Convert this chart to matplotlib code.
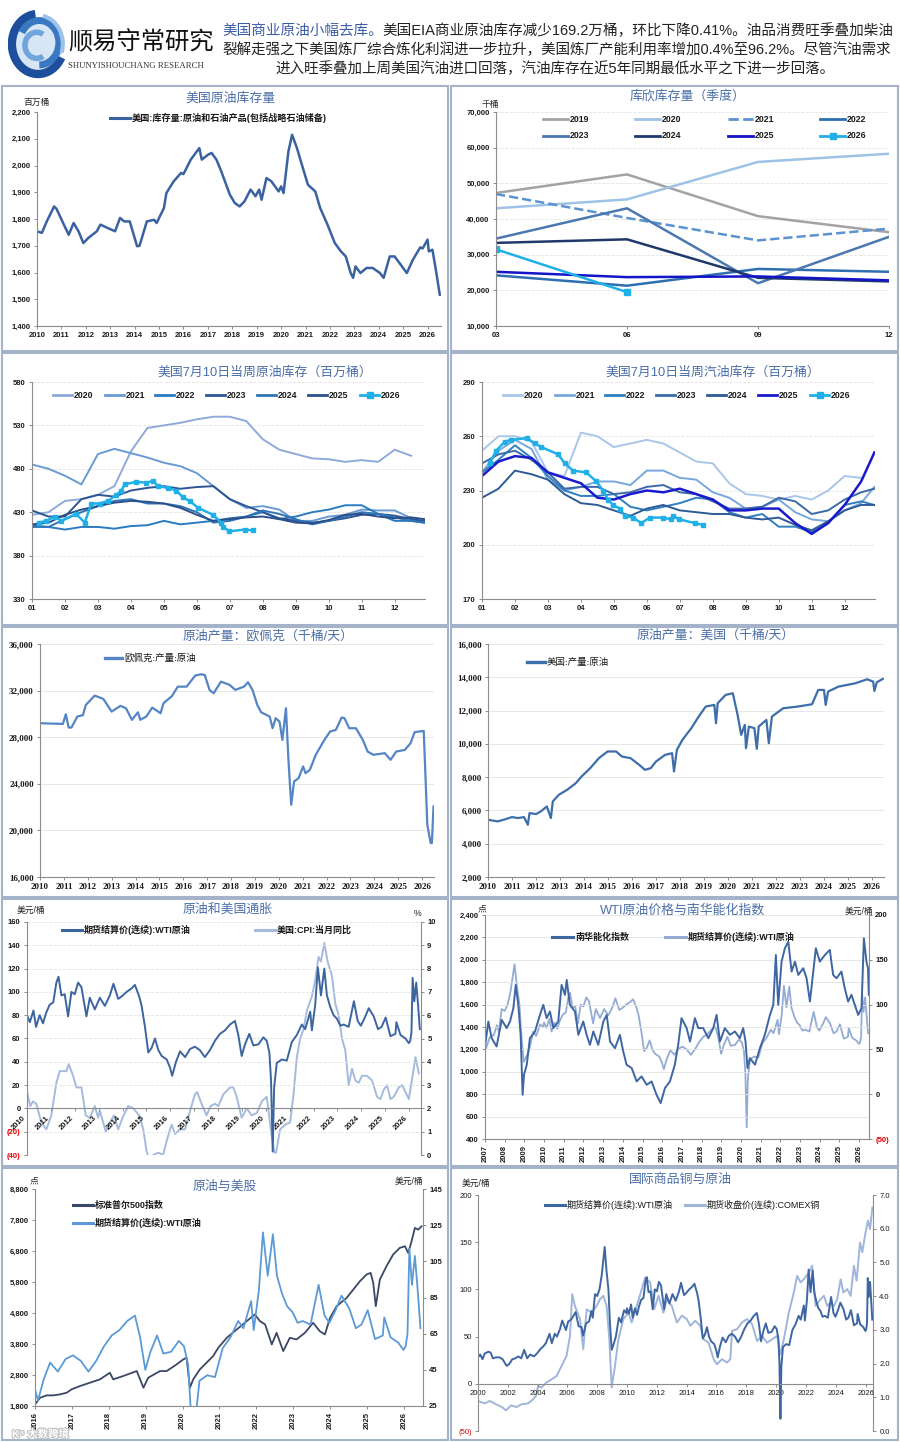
import numpy as np
import matplotlib
matplotlib.use('Agg')
import matplotlib.pyplot as plt
import matplotlib.patheffects as pe
from matplotlib.lines import Line2D
from matplotlib.patches import Rectangle, Arc, Circle

plt.rcParams['font.family'] = ['Liberation Sans', 'Noto Sans CJK SC']
plt.rcParams['font.weight'] = 'bold'
plt.rcParams['axes.unicode_minus'] = False

nan = np.nan

# ---------- 数据 ----------
# 美国原油和石油产品库存 (百万桶)
STOCKS = [(2010.0, 1754), (2010.2, 1748), (2010.4, 1791), (2010.7, 1847), (2010.8, 1838), (2011.1, 1779),
          (2011.3, 1741), (2011.5, 1785), (2011.7, 1754), (2011.9, 1710), (2012.1, 1729), (2012.45, 1754),
          (2012.6, 1779), (2012.9, 1766), (2013.2, 1754), (2013.4, 1804), (2013.57, 1791), (2013.8, 1791),
          (2014.1, 1698), (2014.2, 1700), (2014.5, 1791), (2014.8, 1797), (2014.9, 1785), (2015.2, 1841),
          (2015.3, 1897), (2015.6, 1941), (2015.9, 1972), (2016.0, 1968), (2016.3, 2022), (2016.55, 2053),
          (2016.65, 2065), (2016.75, 2022), (2017.0, 2040), (2017.15, 2047), (2017.35, 2022), (2017.55, 1978),
          (2017.9, 1891), (2018.1, 1860), (2018.3, 1847), (2018.5, 1866), (2018.75, 1910), (2018.95, 1885),
          (2019.1, 1910), (2019.2, 1872), (2019.4, 1953), (2019.6, 1941), (2019.9, 1903), (2020.0, 1922),
          (2020.1, 1897), (2020.3, 2053), (2020.45, 2115), (2020.65, 2065), (2020.85, 2003), (2021.1, 1928),
          (2021.4, 1903), (2021.6, 1841), (2021.9, 1779), (2022.2, 1710), (2022.45, 1679), (2022.65, 1660),
          (2022.85, 1598), (2022.95, 1580), (2023.05, 1623), (2023.25, 1598), (2023.5, 1617), (2023.75, 1617),
          (2024.05, 1598), (2024.2, 1580), (2024.45, 1660), (2024.65, 1660), (2024.95, 1623), (2025.15, 1598),
          (2025.4, 1648), (2025.7, 1694), (2025.8, 1690), (2026.0, 1723), (2026.05, 1679), (2026.2, 1685),
          (2026.35, 1604), (2026.5, 1517)]

# 库欣库存 (千桶), 季度 03/06/09/12
Q_LABELS = ['03', '06', '09', '12']
CUSH_2019 = [47300, 52500, 40800, 36300]
CUSH_2020 = [43000, 45500, 56000, 58300]
CUSH_2021 = [47000, 40300, 34000, 37300]
CUSH_2022 = [24200, 21300, 26000, 25200]
CUSH_2023 = [34500, 43000, 22000, 35000]
CUSH_2024 = [33300, 34300, 23500, 22500]
CUSH_2025 = [25200, 23700, 23900, 22800]
CUSH_2026 = [31500, 19500]

# 季节性图: 月份位置
SEAS_X = [1.0, 1.5, 2.0, 2.5, 3.0, 3.5, 4.0, 4.5, 5.0, 5.5, 6.0, 6.5, 7.0, 7.5, 8.0, 8.5,
          9.0, 9.5, 10.0, 10.5, 11.0, 11.5, 12.0, 12.5, 12.9]
MONTH_LABELS = ['01', '02', '03', '04', '05', '06', '07', '08', '09', '10', '11', '12']

CRUDE_2020 = [427, 430, 443, 445, 450, 460, 500, 527, 530, 533, 537, 540, 540, 535, 514, 502, 497, 492, 491, 488, 490, 488, 502, 495, nan]
CRUDE_2021 = [485, 480, 472, 462, 497, 503, 498, 493, 487, 483, 475, 460, 445, 435, 437, 433, 420, 420, 425, 427, 433, 432, 432, 423, 418]
CRUDE_2022 = [415, 413, 410, 413, 413, 411, 414, 415, 420, 416, 418, 420, 423, 425, 430, 422, 425, 430, 433, 438, 438, 428, 420, 420, 418]
CRUDE_2023 = [432, 425, 425, 445, 450, 448, 455, 458, 460, 457, 459, 460, 445, 437, 430, 423, 420, 418, 420, 423, 427, 428, 426, 422, 420]
CRUDE_2024 = [413, 413, 422, 430, 437, 443, 445, 440, 440, 437, 430, 418, 420, 425, 432, 428, 422, 416, 420, 425, 430, 428, 424, 420, 418]
CRUDE_2025 = [416, 418, 427, 433, 437, 441, 443, 442, 440, 435, 427, 420, 422, 424, 425, 422, 418, 417, 421, 427, 428, 425, 423, 424, 422]
CRUDE_2026 = [(1.20, 418), (1.43, 420), (1.69, 425), (1.89, 420), (2.34, 428), (2.60, 418), (2.80, 440),
              (3.05, 440), (3.31, 443), (3.56, 450), (3.71, 455), (3.81, 462), (4.16, 465), (4.47, 464),
              (4.67, 466), (4.82, 460), (5.12, 458), (5.38, 455), (5.58, 447), (5.78, 443), (6.04, 435),
              (6.49, 427), (6.74, 418), (6.79, 413), (6.99, 408), (7.45, 410), (7.70, 409)]

GAS_2020 = [252, 260, 260, 257, 240, 238, 262, 260, 254, 256, 258, 256, 251, 246, 245, 234, 228, 227, 225, 227, 225, 230, 238, 237, nan]
GAS_2021 = [240, 252, 258, 253, 236, 230, 232, 235, 235, 233, 241, 241, 237, 236, 229, 226, 220, 221, 225, 218, 214, 213, 219, 223, 232]
GAS_2022 = [240, 247, 255, 248, 238, 230, 227, 227, 228, 221, 219, 221, 223, 226, 225, 218, 215, 217, 210, 210, 207, 212, 222, 224, 222]
GAS_2023 = [245, 250, 252, 247, 240, 231, 232, 232, 228, 229, 232, 233, 229, 228, 224, 220, 220, 221, 226, 224, 217, 219, 225, 229, 231]
GAS_2024 = [226, 231, 241, 239, 236, 228, 223, 222, 219, 216, 220, 222, 219, 218, 217, 217, 215, 214, 215, 211, 208, 213, 219, 222, 222]
GAS_2025 = [238, 246, 249, 248, 240, 237, 234, 226, 225, 228, 230, 229, 231, 228, 225, 219, 219, 220, 220, 212, 206, 212, 222, 235, 251]
GAS_2026 = [(1.23, 245), (1.43, 252), (1.69, 257), (1.89, 258), (2.37, 259), (2.60, 256), (2.80, 254),
            (3.31, 250), (3.51, 245), (3.76, 241), (4.16, 240), (4.47, 235), (4.67, 230), (4.82, 225),
            (4.97, 222), (5.18, 220), (5.33, 216), (5.58, 215), (5.83, 212), (6.09, 215), (6.49, 215),
            (6.74, 214), (6.79, 216), (6.99, 214), (7.45, 212), (7.70, 211)]

# 欧佩克原油产量 (千桶/天)
OPEC = [(2010.0, 29200), (2010.96, 29140), (2011.08, 29970), (2011.2, 28830), (2011.32, 28830), (2011.56, 29770),
        (2011.8, 29900), (2011.92, 30770), (2012.29, 31570), (2012.65, 31290), (2013.0, 30200), (2013.37, 30690),
        (2013.6, 30490), (2013.85, 29490), (2014.1, 30140), (2014.2, 29490), (2014.45, 29770), (2014.7, 30540),
        (2015.05, 30060), (2015.17, 30910), (2015.53, 31540), (2015.77, 32340), (2016.14, 32340), (2016.5, 33290),
        (2016.74, 33400), (2016.9, 33340), (2017.1, 32060), (2017.27, 31770), (2017.58, 32770), (2017.94, 32490),
        (2018.18, 32060), (2018.54, 32340), (2018.71, 32710), (2018.9, 32060), (2019.1, 30770), (2019.26, 30140),
        (2019.62, 29770), (2019.74, 28770), (2019.87, 29630), (2020.03, 29340), (2020.15, 27770), (2020.3, 30490),
        (2020.4, 26200), (2020.52, 22200), (2020.64, 24200), (2020.83, 24490), (2021.02, 25490), (2021.12, 24910),
        (2021.3, 25200), (2021.55, 26490), (2021.91, 27770), (2022.15, 28490), (2022.39, 28630), (2022.63, 29690),
        (2022.75, 29630), (2022.95, 28770), (2023.23, 28770), (2023.52, 27770), (2023.72, 26770), (2023.96, 26490),
        (2024.44, 26630), (2024.68, 26060), (2024.92, 26770), (2025.28, 26910), (2025.52, 27490), (2025.69, 28430),
        (2025.88, 28490), (2026.07, 28540), (2026.22, 20490), (2026.36, 18910), (2026.41, 18910), (2026.48, 22060)]

# 美国原油产量 (千桶/天)
US_PROD = [(2010.0, 5440), (2010.4, 5340), (2010.65, 5440), (2011.0, 5600), (2011.25, 5540), (2011.5, 5600),
           (2011.66, 5140), (2011.73, 5840), (2012.0, 5780), (2012.2, 5940), (2012.45, 6240), (2012.62, 5540),
           (2012.7, 6540), (2012.95, 6940), (2013.3, 7240), (2013.66, 7640), (2013.9, 8040), (2014.26, 8540),
           (2014.62, 9140), (2014.98, 9540), (2015.34, 9540), (2015.58, 9240), (2015.94, 9140), (2016.3, 8740),
           (2016.54, 8440), (2016.78, 8540), (2017.0, 8940), (2017.38, 9340), (2017.67, 9440), (2017.75, 8340),
           (2017.87, 9640), (2018.1, 10240), (2018.47, 10940), (2018.78, 11640), (2019.07, 12240), (2019.43, 12340),
           (2019.5, 11240), (2019.57, 12440), (2019.9, 12940), (2020.2, 13040), (2020.4, 11740), (2020.55, 10540),
           (2020.7, 11140), (2020.75, 9740), (2020.87, 11040), (2021.1, 10940), (2021.2, 9700), (2021.28, 11040),
           (2021.6, 11440), (2021.7, 10040), (2021.83, 11640), (2022.3, 12140), (2022.9, 12240), (2023.5, 12380),
           (2023.76, 13240), (2024.0, 13240), (2024.07, 12340), (2024.17, 13140), (2024.6, 13440), (2024.96, 13540),
           (2025.3, 13640), (2025.8, 13880), (2026.05, 13740), (2026.1, 13180), (2026.2, 13700), (2026.45, 13900)]

# WTI 期货结算价 (美元/桶)
WTI = [(2000.0, 28), (2000.15, 31), (2000.3, 26), (2000.45, 32), (2000.7, 34), (2000.85, 33), (2001.0, 27),
       (2001.2, 28), (2001.45, 28), (2001.65, 26), (2001.8, 22), (2001.92, 19), (2002.1, 21), (2002.3, 26),
       (2002.5, 27), (2002.7, 29), (2002.9, 27), (2003.1, 36), (2003.3, 27), (2003.5, 31), (2003.75, 29),
       (2003.95, 32), (2004.2, 37), (2004.4, 40), (2004.55, 43), (2004.8, 53), (2004.95, 43), (2005.15, 53),
       (2005.3, 50), (2005.5, 58), (2005.65, 67), (2005.9, 57), (2006.05, 66), (2006.25, 68), (2006.55, 76),
       (2006.75, 61), (2006.95, 60), (2007.05, 51), (2007.25, 64), (2007.45, 66), (2007.6, 77), (2007.7, 70),
       (2007.85, 95), (2008.0, 93), (2008.15, 100), (2008.3, 115), (2008.5, 145), (2008.62, 120), (2008.75, 100),
       (2008.85, 65), (2008.97, 36), (2009.1, 42), (2009.25, 50), (2009.45, 70), (2009.6, 65), (2009.8, 78),
       (2009.95, 75), (2010.0, 80), (2010.12, 74), (2010.27, 84), (2010.38, 70), (2010.53, 80), (2010.67, 73),
       (2010.8, 82), (2010.95, 89), (2011.1, 91), (2011.23, 108), (2011.32, 113), (2011.44, 97), (2011.58, 98),
       (2011.72, 79), (2011.86, 100), (2012.0, 98), (2012.14, 108), (2012.28, 104), (2012.49, 79), (2012.63, 95),
       (2012.84, 85), (2013.05, 95), (2013.26, 88), (2013.47, 97), (2013.62, 107), (2013.82, 94), (2013.96, 96),
       (2014.17, 100), (2014.38, 103), (2014.52, 106), (2014.7, 96), (2014.8, 88), (2014.94, 70), (2015.08, 48),
       (2015.22, 52), (2015.36, 60), (2015.5, 50), (2015.64, 45), (2015.85, 42), (2015.99, 35), (2016.08, 28),
       (2016.24, 40), (2016.41, 49), (2016.62, 44), (2016.83, 51), (2017.03, 53), (2017.24, 50), (2017.45, 44),
       (2017.66, 50), (2017.87, 58), (2018.08, 64), (2018.29, 67), (2018.5, 72), (2018.71, 75), (2018.85, 63),
       (2018.99, 45), (2019.13, 55), (2019.31, 64), (2019.48, 54), (2019.69, 55), (2019.9, 61), (2020.04, 58),
       (2020.15, 48), (2020.22, 24), (2020.29, -37), (2020.35, 18), (2020.46, 39), (2020.67, 42), (2020.88, 41),
       (2021.09, 57), (2021.3, 63), (2021.51, 72), (2021.65, 68), (2021.86, 83), (2021.93, 67), (2022.07, 89),
       (2022.18, 121), (2022.31, 97), (2022.45, 120), (2022.56, 97), (2022.7, 87), (2022.84, 80), (2022.98, 77),
       (2023.12, 71), (2023.26, 72), (2023.47, 70), (2023.69, 92), (2023.85, 75), (2023.98, 71), (2024.15, 78),
       (2024.31, 86), (2024.52, 79), (2024.7, 68), (2024.85, 70), (2025.02, 78), (2025.22, 62), (2025.43, 64),
       (2025.47, 74), (2025.64, 63), (2025.85, 60), (2025.99, 56), (2026.05, 58), (2026.1, 65), (2026.15, 112),
       (2026.22, 92), (2026.3, 108), (2026.38, 88), (2026.45, 68)]

# 美国CPI当月同比 (%)
CPI = [(2010.0, 2.7), (2010.14, 2.1), (2010.25, 2.3), (2010.39, 2.2), (2010.6, 1.4), (2010.81, 1.1), (2011.02, 1.7),
       (2011.23, 3.1), (2011.37, 3.6), (2011.65, 3.6), (2011.75, 3.9), (2011.93, 3.4), (2012.07, 2.9), (2012.28, 2.9),
       (2012.46, 1.7), (2012.63, 1.6), (2012.84, 2.1), (2012.98, 1.6), (2013.05, 1.9), (2013.3, 1.0), (2013.47, 1.4),
       (2013.64, 1.7), (2013.82, 1.1), (2014.0, 1.6), (2014.24, 2.1), (2014.45, 2.0), (2014.7, 1.7), (2014.87, 1.1),
       (2015.0, 0.2), (2015.08, -0.1), (2015.29, 0.0), (2015.5, 0.1), (2015.7, 0.0), (2015.85, 0.6), (2015.99, 1.1),
       (2016.06, 1.3), (2016.2, 0.9), (2016.4, 1.1), (2016.62, 1.1), (2016.83, 1.9), (2017.03, 2.6), (2017.13, 2.7),
       (2017.31, 2.2), (2017.52, 1.7), (2017.69, 2.1), (2017.87, 2.2), (2018.01, 2.1), (2018.22, 2.6), (2018.5, 2.9),
       (2018.64, 2.9), (2018.78, 2.5), (2018.99, 1.6), (2019.2, 2.0), (2019.41, 1.7), (2019.62, 1.8), (2019.83, 2.3),
       (2020.04, 2.5), (2020.21, 1.1), (2020.36, 0.1), (2020.43, 0.1), (2020.6, 1.1), (2020.81, 1.3), (2021.02, 1.4),
       (2021.16, 2.6), (2021.3, 4.2), (2021.44, 5.0), (2021.58, 5.4), (2021.72, 6.2), (2021.93, 6.8), (2022.07, 7.5),
       (2022.21, 8.5), (2022.31, 8.3), (2022.45, 9.1), (2022.59, 8.3), (2022.77, 7.7), (2022.91, 6.5), (2023.05, 6.0),
       (2023.19, 5.0), (2023.33, 4.5), (2023.47, 3.0), (2023.61, 3.7), (2023.75, 3.2), (2023.89, 3.1), (2024.03, 3.4),
       (2024.24, 3.4), (2024.45, 3.2), (2024.66, 2.5), (2024.8, 2.4), (2024.94, 2.8), (2025.08, 3.0), (2025.22, 2.4),
       (2025.36, 2.5), (2025.57, 2.9), (2025.71, 3.0), (2025.85, 2.7), (2025.99, 2.4), (2026.13, 3.3), (2026.27, 4.2),
       (2026.41, 3.5)]

# 南华能化指数 (点)
NANHUA = [(2007.0, 1226), (2007.17, 1449), (2007.34, 1300), (2007.59, 1226), (2007.85, 1464), (2008.1, 1390),
          (2008.27, 1449), (2008.44, 1568), (2008.56, 1776), (2008.69, 1598), (2008.81, 1330), (2008.91, 795),
          (2008.98, 974), (2009.12, 1063), (2009.28, 1300), (2009.54, 1360), (2009.79, 1508), (2009.96, 1598),
          (2010.13, 1479), (2010.3, 1538), (2010.47, 1390), (2010.72, 1449), (2010.89, 1776), (2011.06, 1687),
          (2011.15, 1820), (2011.31, 1598), (2011.57, 1538), (2011.74, 1330), (2011.99, 1449), (2012.16, 1330),
          (2012.33, 1241), (2012.5, 1360), (2012.75, 1241), (2013.01, 1449), (2013.18, 1508), (2013.35, 1270),
          (2013.6, 1211), (2013.85, 1330), (2014.02, 1182), (2014.19, 1063), (2014.45, 1033), (2014.7, 914),
          (2014.95, 959), (2015.21, 884), (2015.46, 914), (2015.71, 795), (2015.92, 721), (2016.14, 855),
          (2016.39, 914), (2016.64, 1063), (2016.81, 1241), (2016.98, 1479), (2017.24, 1390), (2017.41, 1270),
          (2017.66, 1479), (2017.83, 1390), (2018.08, 1390), (2018.34, 1300), (2018.59, 1390), (2018.76, 1508),
          (2018.93, 1270), (2019.18, 1390), (2019.44, 1330), (2019.69, 1360), (2019.94, 1300), (2020.11, 1390),
          (2020.23, 1270), (2020.33, 1033), (2020.45, 1122), (2020.71, 1063), (2020.96, 1211), (2021.21, 1330),
          (2021.47, 1508), (2021.64, 1598), (2021.77, 2043), (2021.89, 1598), (2022.06, 1984), (2022.23, 2103),
          (2022.4, 2162), (2022.57, 1895), (2022.74, 1984), (2022.91, 1865), (2023.16, 1925), (2023.33, 1835),
          (2023.5, 1627), (2023.67, 1895), (2023.8, 2103), (2024.0, 1984), (2024.26, 2043), (2024.51, 2088),
          (2024.68, 1865), (2024.85, 1835), (2025.1, 1895), (2025.27, 1746), (2025.44, 1627), (2025.61, 1687),
          (2025.78, 1598), (2025.95, 1508), (2026.12, 1568), (2026.24, 2192), (2026.37, 1984), (2026.45, 1925),
          (2026.49, 1687)]

# 标准普尔500指数
SPX = [(2016.0, 1853), (2016.14, 2068), (2016.32, 2143), (2016.5, 2143), (2016.68, 2175), (2016.86, 2229),
       (2016.99, 2336), (2017.22, 2444), (2017.49, 2551), (2017.76, 2659), (2018.03, 2873), (2018.12, 2659),
       (2018.39, 2766), (2018.76, 2927), (2018.94, 2390), (2019.07, 2712), (2019.39, 2927), (2019.57, 2927),
       (2019.84, 3142), (2020.02, 3303), (2020.11, 3357), (2020.2, 2390), (2020.29, 2659), (2020.47, 2980),
       (2020.65, 3195), (2020.83, 3410), (2020.97, 3679), (2021.2, 4000), (2021.47, 4269), (2021.74, 4537),
       (2021.96, 4752), (2022.1, 4537), (2022.24, 4430), (2022.42, 3786), (2022.55, 4162), (2022.73, 3571),
       (2022.91, 4000), (2023.09, 3947), (2023.32, 4162), (2023.54, 4484), (2023.72, 4215), (2023.86, 4108),
       (2024.0, 4645), (2024.18, 5021), (2024.45, 5289), (2024.63, 5557), (2024.81, 5826), (2024.99, 6041),
       (2025.1, 6094), (2025.17, 5772), (2025.24, 5021), (2025.35, 5879), (2025.53, 6309), (2025.71, 6685),
       (2025.89, 6900), (2026.03, 6953), (2026.12, 6738), (2026.21, 7114), (2026.3, 7544), (2026.39, 7490),
       (2026.48, 7597)]

# COMEX铜 (美元/磅)
COPPER = [(2000.0, 0.89), (2000.45, 0.82), (2000.78, 0.89), (2001.23, 0.79), (2001.68, 0.69), (2001.86, 0.61),
          (2002.24, 0.76), (2002.58, 0.71), (2002.91, 0.79), (2003.36, 0.82), (2003.7, 0.94), (2003.88, 1.04),
          (2004.04, 1.34), (2004.26, 1.29), (2004.6, 1.44), (2004.93, 1.53), (2005.27, 1.63), (2005.61, 1.93),
          (2005.94, 2.23), (2006.17, 2.82), (2006.32, 4.06), (2006.5, 3.71), (2006.84, 3.32), (2007.06, 2.43),
          (2007.29, 3.61), (2007.62, 3.51), (2007.96, 3.71), (2008.18, 3.91), (2008.41, 4.01), (2008.63, 3.71),
          (2008.81, 2.72), (2008.97, 1.29), (2009.19, 1.93), (2009.42, 2.72), (2009.75, 3.32), (2010.09, 3.51),
          (2010.31, 3.22), (2010.65, 3.71), (2010.99, 4.21), (2011.21, 4.55), (2011.55, 4.41), (2011.82, 3.61),
          (2012.11, 4.01), (2012.44, 3.51), (2012.67, 3.91), (2013.0, 3.71), (2013.34, 3.22), (2013.68, 3.42),
          (2014.01, 3.32), (2014.24, 3.12), (2014.57, 3.27), (2014.91, 3.12), (2015.13, 2.72), (2015.47, 2.62),
          (2015.81, 2.13), (2016.03, 1.98), (2016.37, 2.13), (2016.7, 2.03), (2016.93, 2.13), (2017.04, 2.97),
          (2017.38, 3.02), (2017.71, 3.22), (2018.05, 3.32), (2018.39, 3.17), (2018.72, 2.67), (2019.06, 2.82),
          (2019.39, 2.62), (2019.73, 2.72), (2020.07, 2.82), (2020.29, 2.28), (2020.52, 2.72), (2020.85, 3.51),
          (2021.19, 4.11), (2021.41, 4.6), (2021.64, 4.41), (2021.86, 4.5), (2022.2, 4.7), (2022.42, 4.9),
          (2022.65, 3.71), (2022.98, 3.91), (2023.21, 4.01), (2023.43, 3.71), (2023.65, 3.81), (2023.88, 3.71),
          (2024.1, 3.91), (2024.33, 4.5), (2024.51, 4.11), (2024.78, 4.21), (2025.0, 4.01), (2025.22, 4.9),
          (2025.4, 4.46), (2025.63, 5.59), (2025.78, 5.3), (2026.0, 5.89), (2026.16, 6.24), (2026.3, 5.99),
          (2026.46, 6.63)]

HEAD_BLUE = '美国商业原油小幅去库。'
HEAD_1 = '美国EIA商业原油库存减少169.2万桶，环比下降0.41%。油品消费旺季叠加柴油'
HEAD_2 = '裂解走强之下美国炼厂综合炼化利润进一步拉升，美国炼厂产能利用率增加0.4%至96.2%。尽管汽油需求'
HEAD_3 = '进入旺季叠加上周美国汽油进口回落，汽油库存在近5年同期最低水平之下进一步回落。'


def unzip(pairs):
    t, v = zip(*pairs)
    return np.array(t), np.array(v, dtype=float)


# ---------- 画布 ----------
W, H = 900, 1442
fig = plt.figure(figsize=(W / 100, H / 100), dpi=100)
fig.patch.set_facecolor('white')


def fx(x):
    return x / W


def fy(y):
    return 1 - y / H


def frame(x0, y0, x1, y1):
    fig.add_artist(Rectangle((fx(x0), fy(y1)), (x1 - x0) / W, (y1 - y0) / H, transform=fig.transFigure,
                             fill=False, ec='#a4b2ca', lw=1.5))


def new_ax(x0, x1, yt, yb, size=5.5):
    ax = fig.add_axes([fx(x0), fy(yb), (x1 - x0) / W, (yb - yt) / H])
    for s in ['top', 'right']:
        ax.spines[s].set_visible(False)
    for s in ax.spines.values():
        s.set_color('#8c8c8c')
        s.set_linewidth(0.8)
    ax.tick_params(labelsize=size, length=2.5, width=0.7, color='#8c8c8c', pad=2, labelcolor='#1a1a1a')
    return ax


def twin(ax, size=5.5):
    a2 = ax.twinx()
    for s in ['top', 'left', 'bottom']:
        a2.spines[s].set_visible(False)
    a2.spines['right'].set_color('#8c8c8c')
    a2.spines['right'].set_linewidth(0.8)
    a2.tick_params(labelsize=size, length=2.5, width=0.7, color='#8c8c8c', pad=2, labelcolor='#1a1a1a')
    return a2


def title(x, y, s, size=9.3):
    fig.text(fx(x), fy(y), s, ha='center', va='center', fontsize=size, color='#4b6fa9', weight='normal')


def note(x, y, s, size=6.3, ha='left'):
    fig.text(fx(x), fy(y), s, ha=ha, va='center', fontsize=size, color='#222222', weight='normal')


def leg(x0, x1, y, s, color, lw=2.2, ls='-', marker=None, size=6.5, family=None, weight='bold'):
    fig.add_artist(Line2D([fx(x0), fx(x1)], [fy(y), fy(y)], transform=fig.transFigure,
                          color=color, lw=lw, ls=ls))
    if marker:
        fig.add_artist(Line2D([fx((x0 + x1) / 2)], [fy(y)], transform=fig.transFigure,
                              color=color, marker=marker, ms=4, lw=0))
    kw = dict(ha='left', va='center', fontsize=size, color='#1a1a1a', weight=weight)
    if family:
        kw['family'] = family
    fig.text(fx(x1 + 2), fy(y), s, **kw)


def yticks(ax, ticks, fmt=lambda v: f'{v:,.0f}'):
    ax.set_yticks(ticks)
    labs = ax.set_yticklabels([fmt(t) if t >= 0 else f'({abs(t):.0f})' for t in ticks])
    for t, l in zip(ticks, labs):
        if t < 0:
            l.set_color('#e00000')


def hgrid(ax, ls='--'):
    ax.grid(axis='y', color='#e3e3e3', lw=0.6, ls=ls)
    ax.set_axisbelow(True)


# 面板边框
for (y0, y1) in [(86, 351), (353, 625), (627, 897), (899, 1166), (1168, 1440)]:
    frame(2, y0, 448, y1)
    frame(451, y0, 898, y1)

# ---------- 页眉 ----------
lg = fig.add_axes([fx(8), fy(80), 60 / W, 72 / H])
lg.set_xlim(-1.15, 1.15)
lg.set_ylim(-1.38, 1.38)
lg.axis('off')
lg.add_patch(Circle((0, 0), 1.0, color='#d6e6f5', lw=0))
lg.add_patch(Arc((0, 0), 2.0, 2.3, theta1=95, theta2=330, lw=6, color='#1d4f9c'))
lg.add_patch(Arc((0.05, 0.05), 1.5, 1.7, theta1=270, theta2=150, lw=5, color='#3a78c3'))
lg.add_patch(Arc((-0.05, -0.05), 0.9, 1.0, theta1=60, theta2=300, lw=4, color='#6fa4dc'))
lg.add_patch(Arc((0.0, 0.0), 1.9, 2.2, theta1=340, theta2=80, lw=3, color='#9cc3ea'))

fig.text(fx(68), fy(42), '顺易守常研究', fontsize=17.5, color='#111111', weight='normal', va='center')
fig.text(fx(68), fy(66), 'SHUNYISHOUCHANG RESEARCH', fontsize=6.3, color='#333333', weight='normal',
         va='center', family=['Liberation Serif'])

renderer = fig.canvas.get_renderer()
tb = fig.text(fx(222), fy(31), HEAD_BLUE, color='#3b5ca8', fontsize=10, weight='normal', va='center')
t1 = fig.text(fx(222), fy(31), HEAD_1, color='#222222', fontsize=10, weight='normal', va='center')
w_all = tb.get_window_extent(renderer).width + t1.get_window_extent(renderer).width
fs = 10 * 671 / w_all
tb.set_fontsize(fs)
t1.set_fontsize(fs)
t1.set_x(fx(222 + tb.get_window_extent(renderer).width))
t2 = fig.text(fx(222), fy(50), HEAD_2, color='#222222', fontsize=fs, weight='normal', va='center')
w2 = t2.get_window_extent(renderer).width
t2.set_fontsize(fs * 671 / w2)
fig.text(fx(555), fy(69), HEAD_3, color='#222222', fontsize=t2.get_fontsize(), weight='normal',
         va='center', ha='center')

# ---------- 1 美国原油库存量 ----------
ax = new_ax(37, 441, 112, 326)
t, v = unzip(STOCKS)
ax.plot(t, v, color='#3b62a0', lw=1.8)
ax.set_xlim(2010, 2026.55)
ax.set_ylim(1400, 2200)
ax.set_xticks(range(2010, 2027))
ax.set_xticklabels([str(y) for y in range(2010, 2027)])
yticks(ax, list(range(1400, 2201, 100)))
title(231, 98, '美国原油库存量')
note(23, 102, '百万桶', size=6.3)
leg(110, 130, 118, '美国:库存量:原油和石油产品(包括战略石油储备)', '#3b62a0', size=6.6)

# ---------- 2 库欣库存量 ----------
ax = new_ax(496, 889, 112, 326)
hgrid(ax)
qx = [0, 1, 2, 3]
cush = [(CUSH_2019, '#a3a3a3', '-', None), (CUSH_2020, '#9fc2e7', '-', None),
        (CUSH_2021, '#5b93d0', '--', None), (CUSH_2022, '#2e6fb0', '-', None),
        (CUSH_2023, '#4b78b0', '-', None), (CUSH_2024, '#1f3a6a', '-', None),
        (CUSH_2025, '#1414c8', '-', None), (CUSH_2026, '#20b0e8', '-', 's')]
for vals, c, ls, mk in cush:
    ax.plot(qx[:len(vals)], vals, color=c, lw=1.8, ls=ls, marker=mk, ms=4)
ax.set_xlim(0, 3)
ax.set_ylim(10000, 70000)
ax.set_xticks(qx)
ax.set_xticklabels(Q_LABELS)
yticks(ax, list(range(10000, 70001, 10000)))
title(688, 96, '库欣库存量（季度）')
note(482, 104, '千桶', size=6.3)
names = ['2019', '2020', '2021', '2022', '2023', '2024', '2025', '2026']
cols = [543, 635, 728, 820]
for i, (nm, (vals, c, ls, mk)) in enumerate(zip(names, cush)):
    x0 = cols[i % 4]
    yy = 119 if i < 4 else 136
    leg(x0, x0 + 25, yy, nm, c, lw=2.0, ls=ls, marker=mk, size=6.3)

# ---------- 3/4 季节性 ----------
seas_cols_crude = ['#8eaadb', '#6a9ad4', '#2a7bc0', '#2f5597', '#2e75b6', '#2b4f8a']
seas_cols_gas = ['#a9c6ea', '#78a7dc', '#2f7fc1', '#3a6aa8', '#2e5a96', '#1a1acd']
years = ['2020', '2021', '2022', '2023', '2024', '2025', '2026']
panels = [
    (32, 425, [CRUDE_2020, CRUDE_2021, CRUDE_2022, CRUDE_2023, CRUDE_2024, CRUDE_2025], CRUDE_2026,
     seas_cols_crude, (330, 580), 50, 265, '美国7月10日当周原油库存（百万桶）', 0),
    (482, 875, [GAS_2020, GAS_2021, GAS_2022, GAS_2023, GAS_2024, GAS_2025], GAS_2026,
     seas_cols_gas, (170, 290), 30, 713, '美国7月10日当周汽油库存（百万桶）', 450),
]
for x0, x1, series, cur, colors, ylim, step, tx, ttl, off in panels:
    ax = new_ax(x0, x1, 382, 599)
    hgrid(ax)
    for vals, c in zip(series, colors):
        lw = 1.8 if c == '#1a1acd' else 1.4
        ax.plot(SEAS_X, vals, color=c, lw=lw)
    ct, cv = unzip(cur)
    ax.plot(ct, cv, color='#20b0e8', lw=1.8, marker='s', ms=3.2)
    ax.set_xlim(1, 12.92)
    ax.set_ylim(*ylim)
    ax.set_xticks(range(1, 13))
    ax.set_xticklabels(MONTH_LABELS)
    yticks(ax, list(range(ylim[0], ylim[1] + 1, step)), fmt=lambda v: f'{v:.0f}')
    title(tx, 372, ttl)
    lx = [53, 105, 155, 206, 257, 308, 360]
    for i, nm in enumerate(years):
        c = colors[i] if i < 6 else '#20b0e8'
        leg(lx[i] + off, lx[i] + off + 19, 395, nm, c, lw=2.0, marker='s' if i == 6 else None, size=6.3)

# ---------- 5/6 产量 ----------
serif = ['Liberation Serif', 'Noto Sans CJK SC']
prod = [(40, 434, OPEC, '#5585c5', (16000, 36000), 4000, 268, '原油产量：欧佩克（千桶/天）',
         (105, 122, 658, '欧佩克:产量:原油')),
        (488, 884, US_PROD, '#3e6eaa', (2000, 16000), 2000, 716, '原油产量：美国（千桶/天）',
         (527, 545, 662, '美国:产量:原油'))]
for x0, x1, data, c, ylim, step, tx, ttl, lgd in prod:
    ax = new_ax(x0, x1, 644, 877, size=6.5)
    hgrid(ax, ls='-')
    t, v = unzip(data)
    ax.plot(t, v, color=c, lw=1.6)
    ax.set_xlim(2010, 2026.5)
    ax.set_ylim(*ylim)
    ax.set_xticks(range(2010, 2027))
    ax.set_xticklabels([str(y) for y in range(2010, 2027)])
    yticks(ax, list(range(ylim[0], ylim[1] + 1, step)))
    for l in ax.get_xticklabels() + ax.get_yticklabels():
        l.set_family(serif)
    title(tx, 636, ttl)
    leg(lgd[0], lgd[1], lgd[2], lgd[3], c, lw=2.4, size=6.8, family=serif, weight='normal')

# ---------- 7 原油和美国通胀 ----------
ax = new_ax(27, 421, 922, 1155)
ax2 = twin(ax)
hgrid(ax)
t, v = unzip(CPI)
ax2.plot(t, v, color='#a5bbdd', lw=1.4)
t, v = unzip(WTI)
m = t >= 2010
ax.plot(t[m], v[m], color='#3c65a0', lw=1.4)
ax.set_zorder(ax2.get_zorder() + 1)
ax.patch.set_visible(False)
ax.set_xlim(2010, 2026.5)
ax.set_ylim(-40, 160)
ax2.set_ylim(0, 10)
ax.spines['bottom'].set_position(('data', 0))
ax.set_xticks(range(2010, 2027))
ax.set_xticklabels([str(y) for y in range(2010, 2027)], rotation=45, ha='right', va='top')
yticks(ax, list(range(-40, 161, 20)))
ax2.set_yticks(range(0, 11))
title(228, 910, '原油和美国通胀')
note(17, 910, '美元/桶', size=6.3)
note(414, 913, '%', size=6.3)
leg(62, 82, 930, '期货结算价(连续):WTI原油', '#3c65a0', size=6.5)
leg(255, 275, 930, '美国:CPI:当月同比', '#a5bbdd', size=6.5)

# ---------- 8 WTI与南华能化 ----------
ax = new_ax(485, 869, 915, 1139)
ax2 = twin(ax)
hgrid(ax, ls='-')
t, v = unzip(WTI)
m = t >= 2007
ax2.plot(t[m], v[m], color='#94acd3', lw=1.3)
t, v = unzip(NANHUA)
ax.plot(t, v, color='#3d66a3', lw=1.4)
ax.set_zorder(ax2.get_zorder() + 1)
ax.patch.set_visible(False)
ax.set_xlim(2007, 2026.5)
ax.set_ylim(400, 2400)
ax2.set_ylim(-50, 200)
ax.set_xticks(range(2007, 2027))
ax.set_xticklabels([str(y) for y in range(2007, 2027)], rotation=90)
yticks(ax, list(range(400, 2401, 200)))
yticks(ax2, list(range(-50, 201, 50)))
title(682, 910, 'WTI原油价格与南华能化指数')
note(478, 909, '点', size=6.3)
note(845, 911, '美元/桶', size=6.3)
leg(552, 573, 937, '南华能化指数', '#3d66a3', size=6.5)
leg(665, 686, 937, '期货结算价(连续):WTI原油', '#94acd3', size=6.5)

# ---------- 9 原油与美股 ----------
ax = new_ax(35, 423, 1189, 1406)
ax2 = twin(ax)
t, v = unzip(SPX)
ax.plot(t, v, color='#3a4866', lw=1.3)
t, v = unzip(WTI)
m = t >= 2015.9
ax2.plot(t[m], v[m], color='#5b9ad6', lw=1.3)
ax.set_xlim(2016, 2026.52)
ax.set_ylim(1800, 8800)
ax2.set_ylim(25, 145)
ax.set_xticks(range(2016, 2027))
ax.set_xticklabels([str(y) for y in range(2016, 2027)], rotation=90)
yticks(ax, list(range(1800, 8801, 1000)))
ax2.set_yticks(range(25, 146, 20))
title(225, 1187, '原油与美股')
note(30, 1181, '点', size=6.3)
note(395, 1181, '美元/桶', size=6.3)
leg(73, 93, 1205, '标准普尔500指数', '#3a4866', size=6.5)
leg(73, 93, 1223, '期货结算价(连续):WTI原油', '#5b9ad6', size=6.5)
# 水印: 放在刻度标签下方, 避免与年份重叠
fig.text(fx(12), fy(1434), 'K⁵ 大数跨境', fontsize=7.5, color='white', weight='bold', va='center',
         path_effects=[pe.withStroke(linewidth=1.6, foreground='#c4c4c4')])

# ---------- 10 国际商品铜与原油 ----------
ax = new_ax(478, 873, 1195, 1431)
ax2 = twin(ax)
t, v = unzip(COPPER)
ax2.plot(t, v, color='#a0b5da', lw=1.4)
t, v = unzip(WTI)
ax.plot(t, v, color='#3d66a3', lw=1.4)
ax.set_zorder(ax2.get_zorder() + 1)
ax.patch.set_visible(False)
ax.set_xlim(2000, 2026.5)
ax.set_ylim(-50, 200)
ax2.set_ylim(0, 7)
ax.spines['bottom'].set_position(('data', 0))
ax.set_xticks(range(2000, 2027, 2))
ax.set_xticklabels([str(y) for y in range(2000, 2027, 2)])
yticks(ax, list(range(-50, 201, 50)))
ax2.set_yticks(np.arange(0, 7.01, 1.0))
ax2.set_yticklabels([f'{x:.1f}' for x in np.arange(0, 7.01, 1.0)])
for l in ax.get_xticklabels() + ax.get_yticklabels() + ax2.get_yticklabels():
    l.set_fontweight('normal')
title(680, 1180, '国际商品铜与原油')
note(462, 1183, '美元/桶', size=6.3)
leg(545, 565, 1205, '期货结算价(连续):WTI原油', '#3d66a3', size=6.5, weight='normal')
leg(685, 705, 1205, '期货收盘价(连续):COMEX铜', '#a0b5da', size=6.5, weight='normal')

fig.savefig('out.png', dpi=100, facecolor='white')
